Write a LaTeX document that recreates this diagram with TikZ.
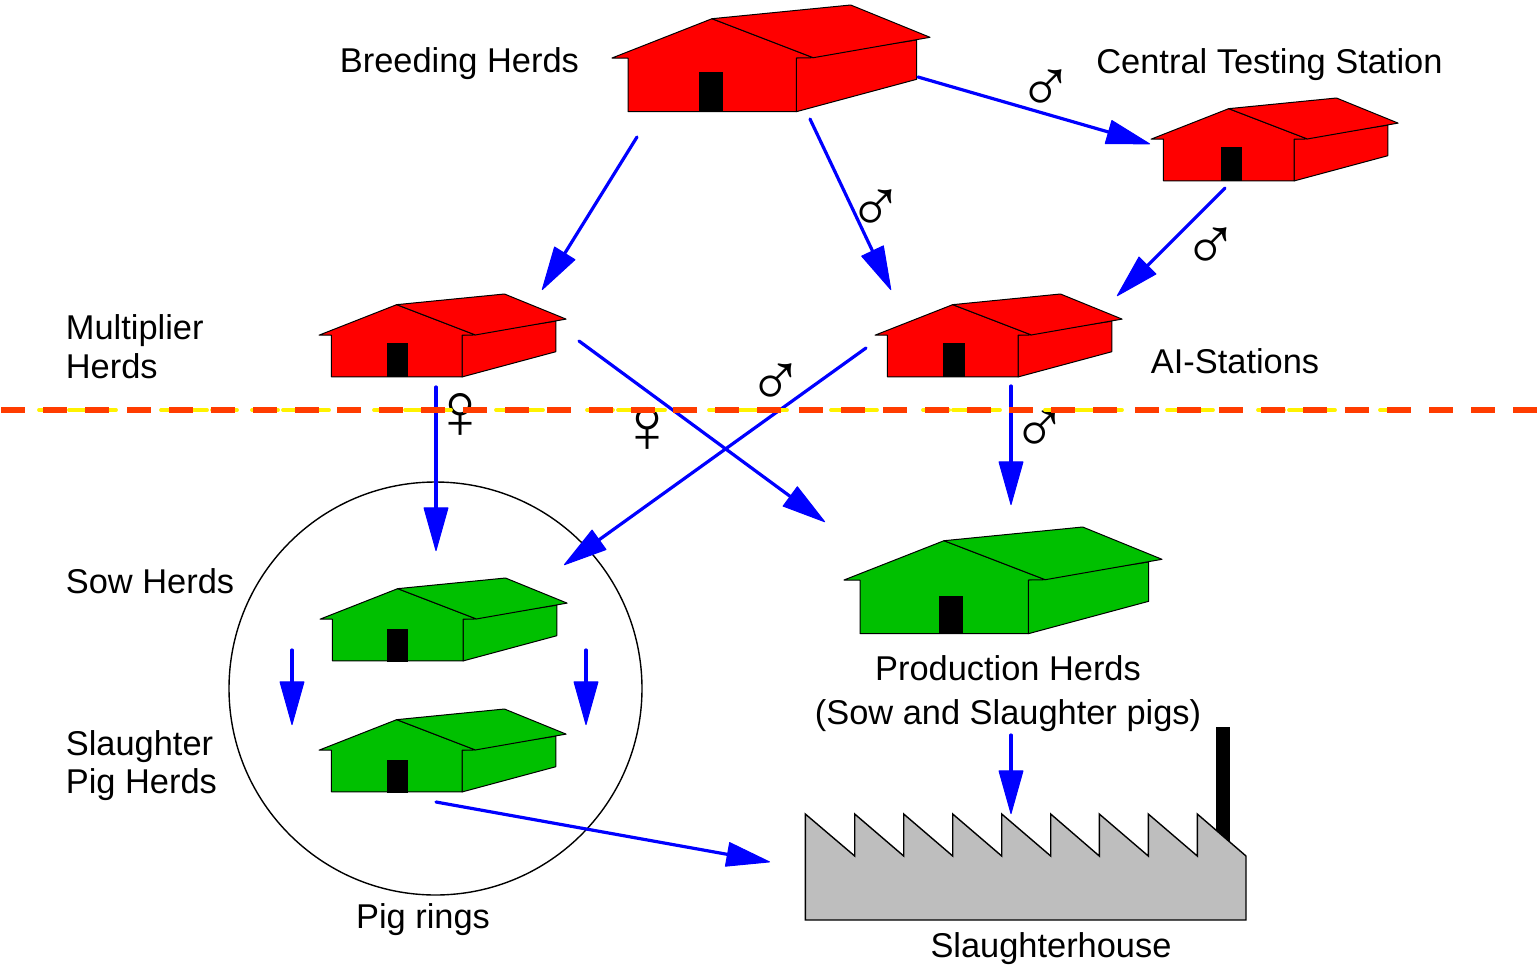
\documentclass[tikz,border=0pt]{standalone}
\usepackage{fontspec}
\setmainfont{Liberation Sans}
\usetikzlibrary{arrows.meta}
\tikzset{
  lbl/.style={inner sep=0pt,font=\fontsize{17.2pt}{20pt}\selectfont,anchor=base west},
  lblc/.style={lbl,anchor=base},
  sym/.style={inner sep=0pt,font=\fontsize{38pt}{38pt}\selectfont},
  fsym/.style={inner sep=0pt,font=\fontsize{40pt}{40pt}\selectfont},
  flow/.style={draw=blue,line width=1.6pt,line cap=round,-{Triangle[length=22.5pt,width=12.5pt,line width=0.5pt,round]}},
  wall/.style={draw=black,line width=0.5pt,line join=round},
  orange dash/.style={draw=dashorange,line width=3pt},
  yellow dash/.style={draw=yellow,line width=1.9pt,line cap=round},
}
\definecolor{dashorange}{RGB}{255,60,0}
\definecolor{barnred}{RGB}{255,0,0}
\definecolor{barngreen}{RGB}{0,192,0}
\definecolor{shedgray}{RGB}{190,190,190}
\newcommand{\barn}[5]{%
  \begin{scope}[shift={(#1,#2)},xscale=#3,yscale=#4]
    \path[wall,fill=#5] (184.3,53) -- (184.3,106.7) -- (304.7,74.3) -- (304.7,35) -- cycle;
    \path[wall,fill=#5] (0,53) -- (100,13.7) -- (201.3,52.7) -- (184.3,53) -- (184.3,106.7) -- (16,106.7) -- (16,53) -- cycle;
    \path[wall,fill=#5] (100,13.7) -- (238.7,0) -- (318,32.3) -- (201.3,52.7) -- cycle;
  \end{scope}}
\begin{document}
\begin{tikzpicture}[x=0.5pt,y=-0.5pt]
\useasboundingbox (0,0) rectangle (1539,965);

% pig ring
\node[draw=black,line width=0.7pt,circle,minimum size=206.5pt,inner sep=0pt] (ring) at (435.5,688.5) {};

% barns
\barn{612}{5}{1}{1}{barnred}
\fill[black] (699.3,71.7) rectangle (723.3,111);
\barn{1151}{98}{0.777}{0.777}{barnred}
\fill[black] (1221,147) rectangle (1242,180.5);
\barn{319}{294}{0.777}{0.777}{barnred}
\fill[black] (387,343) rectangle (408,376.5);
\barn{875}{294}{0.777}{0.777}{barnred}
\fill[black] (943,343) rectangle (965,376.5);
\barn{320}{578}{0.777}{0.777}{barngreen}
\fill[black] (387,629) rectangle (408,661.5);
\barn{319}{709}{0.777}{0.777}{barngreen}
\fill[black] (387,760) rectangle (408,792.5);
\barn{844}{527}{1}{1}{barngreen}
\fill[black] (939,596) rectangle (963,634);

% slaughterhouse
\fill[black] (1216,727) rectangle (1229.5,850);
\draw[wall,line join=miter,fill=shedgray,draw=black,line width=0.7pt] (805.3,814) -- (854.7,856) -- (854.7,814) -- (903.7,856) -- (903.7,814) -- (952.7,856) -- (952.7,814) -- (1001.7,856) -- (1001.7,814) -- (1050.7,856) -- (1050.7,814) -- (1099.3,856) -- (1099.3,814) -- (1148.3,856) -- (1148.3,814) -- (1197.3,856) -- (1197.3,814) -- (1246,856) -- (1246,920) -- (805.3,920) -- cycle;

% connector ends
\coordinate (a1s) at (918,77);    \coordinate (a1e) at (1150,144);
\coordinate (a2s) at (810,119);   \coordinate (a2e) at (891,290);
\coordinate (a3s) at (637,137);   \coordinate (a3e) at (542,290);
\coordinate (a4s) at (1225,188);  \coordinate (a4e) at (1117,296);
\coordinate (a5s) at (579,341);   \coordinate (a5e) at (825,522);
\coordinate (a6s) at (866,348);   \coordinate (a6e) at (564,565);
\coordinate (a7s) at (436,387);   \coordinate (a7e) at (436,551);
\coordinate (a8s) at (1011,386);  \coordinate (a8e) at (1011,505);
\coordinate (a9s) at (292,650);   \coordinate (a9e) at (292,725);
\coordinate (a10s) at (586,650);  \coordinate (a10e) at (586,725);
\coordinate (a11s) at (1011,735); \coordinate (a11e) at (1011,814);
\coordinate (a12s) at (436,802);  \coordinate (a12e) at (770,862);
\foreach \k in {1,...,12} {\draw[flow] (a\k s) -- (a\k e);}

% symbols
\node[sym] (m1) at (1045.5,91.5) {♂};
\node[sym] (m2) at (875.5,211) {♂};
\node[sym] (m3) at (1210.5,249.5) {♂};
\node[sym] (m4) at (775.5,385) {♂};
\node[sym] (m5) at (1039.5,432.5) {♂};
\node[fsym] (f1) at (460.3,416) {♀};
\node[fsym] (f2) at (647,429.5) {♀};

% dashed border
\foreach \a/\b in {39/65,69/116,161/207,212/237,252/278,283/329,374/400,405/451,496/543,587/613,618/665,709/735,740/787,831/877,923/949,953/1000,1045/1071,1076/1092,1094/1122,1167/1213,1258/1284,1289/1335,1380/1405}
  {\draw[yellow dash] (\a,410) -- (\b,410);}
\foreach \k in {0,...,36}
  {\draw[orange dash] ({1+42*\k},410) -- ({25+42*\k},410);}

% labels
\node[lbl] (breeding) at (339.5,72) {Breeding Herds};
\node[lbl] (central) at (1096,73) {Central Testing Station};
\node[lbl] (mult1) at (65.5,339) {Multiplier};
\node[lbl] (mult2) at (65.5,378) {Herds};
\node[lbl] (ai) at (1150.5,373) {AI-Stations};
\node[lbl] (sow) at (65.5,593) {Sow Herds};
\node[lbl] (sl1) at (65.5,755) {Slaughter};
\node[lbl] (sl2) at (65.5,793) {Pig Herds};
\node[lblc] (prod1) at (1008,680) {Production Herds};
\node[lblc] (prod2) at (1008,724) {(Sow and Slaughter pigs)};
\node[lblc] (rings) at (423,928) {Pig rings};
\node[lblc] (house) at (1051,957) {Slaughterhouse};
\end{tikzpicture}
\end{document}
